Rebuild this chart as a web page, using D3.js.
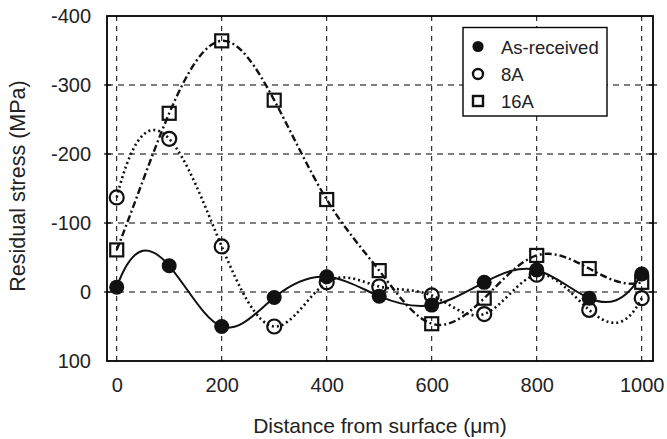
<!DOCTYPE html>
<html><head><meta charset="utf-8">
<script src="https://cdn.jsdelivr.net/npm/d3@7"></script>
<style>body{margin:0;background:#fff}svg{display:block}text{font-family:"Liberation Sans",Arial,sans-serif;fill:#222}</style>
</head><body><svg id="c" width="667" height="439"></svg>
<script>
const distances = [0,100,200,300,400,500,600,700,800,900,1000];
const asReceived = [-7,-38,50,8,-22,6,19,-14,-32,9,-26];
const a8 = [-137,-222,-66,50,-14,-8,5,32,-25,26,9];
const a16 = [-61,-259,-364,-278,-134,-31,46,9,-53,-34,-14];
const xTicks = [0,200,400,600,800,1000];
const yTicks = [-400,-300,-200,-100,0,100];
const seriesNames = ["As-received","8A","16A"];

// not-a-knot cubic spline curve for d3.line
function NotAKnot(context){this._context=context;}
NotAKnot.prototype = {
  areaStart(){this._line=0;}, areaEnd(){this._line=NaN;},
  lineStart(){this._x=[];this._y=[];},
  point(x,y){this._x.push(+x);this._y.push(+y);},
  lineEnd(){
    const X=this._x,Y=this._y,n=X.length,c=this._context;
    if(!n) return;
    c.moveTo(X[0],Y[0]);
    if(n<4){for(let i=1;i<n;i++)c.lineTo(X[i],Y[i]);return;}
    const h=[];for(let i=0;i<n-1;i++)h.push(X[i+1]-X[i]);
    const A=[],b=[];
    for(let i=0;i<n;i++){A.push(new Array(n).fill(0));b.push(0);}
    A[0][0]=-h[1];A[0][1]=h[0]+h[1];A[0][2]=-h[0];
    for(let i=1;i<n-1;i++){
      A[i][i-1]=h[i-1];A[i][i]=2*(h[i-1]+h[i]);A[i][i+1]=h[i];
      b[i]=6*((Y[i+1]-Y[i])/h[i]-(Y[i]-Y[i-1])/h[i-1]);
    }
    A[n-1][n-3]=-h[n-2];A[n-1][n-2]=h[n-3]+h[n-2];A[n-1][n-1]=-h[n-3];
    // gaussian elimination
    for(let k=0;k<n;k++){
      let p=k;for(let r=k+1;r<n;r++)if(Math.abs(A[r][k])>Math.abs(A[p][k]))p=r;
      [A[k],A[p]]=[A[p],A[k]];[b[k],b[p]]=[b[p],b[k]];
      for(let r=k+1;r<n;r++){const f=A[r][k]/A[k][k];if(!f)continue;
        for(let j=k;j<n;j++)A[r][j]-=f*A[k][j];b[r]-=f*b[k];}
    }
    const M=new Array(n).fill(0);
    for(let k=n-1;k>=0;k--){let s=b[k];for(let j=k+1;j<n;j++)s-=A[k][j]*M[j];M[k]=s/A[k][k];}
    for(let i=0;i<n-1;i++){
      const hh=h[i],d=(Y[i+1]-Y[i])/hh;
      const s0=d-hh*(2*M[i]+M[i+1])/6, s1=d+hh*(M[i]+2*M[i+1])/6;
      c.bezierCurveTo(X[i]+hh/3,Y[i]+s0*hh/3,X[i+1]-hh/3,Y[i+1]-s1*hh/3,X[i+1],Y[i+1]);
    }
  }
};
const curveNotAKnot = ctx => new NotAKnot(ctx);

const svg = d3.select("#c");
const L=107,R=653,T=16,B=361;
const x = d3.scaleLinear().domain([-18.5,1021.5]).range([L,R]);
const y = d3.scaleLinear().domain([-400,100]).range([T,B]);

// grid
const g = svg.append("g");
g.selectAll(".vg").data(xTicks).enter().append("line")
  .attr("x1",d=>x(d)).attr("x2",d=>x(d)).attr("y1",T).attr("y2",B)
  .attr("stroke","#000").attr("stroke-width",1).attr("stroke-dasharray","5,5");
g.selectAll(".hg").data(yTicks.slice(1,-1)).enter().append("line")
  .attr("y1",d=>y(d)).attr("y2",d=>y(d)).attr("x1",L).attr("x2",R)
  .attr("stroke","#000").attr("stroke-width",1).attr("stroke-dasharray","6,5");

// axes
const fmt = d => String(d);
const yAxis = d3.axisLeft(y).tickValues(yTicks).tickFormat(fmt).tickSize(0).tickPadding(16);
const xAxis = d3.axisBottom(x).tickValues(xTicks).tickFormat(fmt).tickSize(0).tickPadding(17);
const ya = svg.append("g").attr("transform",`translate(${L},0)`).call(yAxis);
const xa = svg.append("g").attr("transform",`translate(0,${B})`).call(xAxis);
[ya,xa].forEach(a=>{a.attr("font-size",null).attr("font-family",null);a.select(".domain").remove();
  a.selectAll("text").style("font-size","20px").style("fill","#222");});
// small ticks on frame
svg.selectAll(".rt").data(yTicks.slice(1,-1)).enter().append("line")
  .attr("x1",R-4).attr("x2",R+4).attr("y1",d=>y(d)).attr("y2",d=>y(d)).attr("stroke","#000").attr("stroke-width",1.2);
svg.selectAll(".lt").data(yTicks.slice(1,-1)).enter().append("line")
  .attr("x1",L-3).attr("x2",L+4).attr("y1",d=>y(d)).attr("y2",d=>y(d)).attr("stroke","#000").attr("stroke-width",1.2);

// frame
svg.append("rect").attr("x",L).attr("y",T).attr("width",R-L).attr("height",B-T)
  .attr("fill","none").attr("stroke","#000").attr("stroke-width",1.8);

// lines
const line = d3.line().x(d=>x(d[0])).y(d=>y(d[1])).curve(curveNotAKnot);
const series = [
  {vals:asReceived, dash:null, w:2},
  {vals:a8, dash:"2,3", w:2.6},
  {vals:a16, dash:"7,3,2,3", w:2.4}
];
series.forEach(s=>{
  svg.append("path").datum(distances.map((d,i)=>[d,s.vals[i]]))
    .attr("d",line).attr("fill","none").attr("stroke","#111")
    .attr("stroke-width",s.w).attr("stroke-dasharray",s.dash);
});

// markers
svg.selectAll(".m16").data(distances).enter().append("rect")
  .attr("x",(d)=>x(d)-6.5).attr("y",(d,i)=>y(a16[i])-6.5).attr("width",13).attr("height",13)
  .attr("fill","none").attr("stroke","#111").attr("stroke-width",2.2);
svg.selectAll(".m8").data(distances).enter().append("circle")
  .attr("cx",d=>x(d)).attr("cy",(d,i)=>y(a8[i])).attr("r",7)
  .attr("fill","none").attr("stroke","#111").attr("stroke-width",2.2);
svg.selectAll(".m0").data(distances).enter().append("circle")
  .attr("cx",d=>x(d)).attr("cy",(d,i)=>y(asReceived[i])).attr("r",7.5)
  .attr("fill","#111");

// legend
const lg = svg.append("g");
lg.append("rect").attr("x",463).attr("y",27.5).attr("width",144).attr("height",88.5)
  .attr("fill","#fff").attr("stroke","#000").attr("stroke-width",1.4);
const ly=[46.5,74,101];
lg.append("circle").attr("cx",478).attr("cy",ly[0]).attr("r",5.6).attr("fill","#111");
lg.append("circle").attr("cx",478).attr("cy",ly[1]).attr("r",5).attr("fill","none").attr("stroke","#111").attr("stroke-width",2.4);
lg.append("rect").attr("x",473).attr("y",ly[2]-5).attr("width",10).attr("height",10).attr("fill","none").attr("stroke","#111").attr("stroke-width",2.4);
lg.selectAll("text").data(seriesNames).enter().append("text")
  .attr("x",501).attr("y",(d,i)=>ly[i]+7).style("font-size","18.5px").text(d=>d);

// axis titles
svg.append("text").attr("x",380).attr("y",433).attr("text-anchor","middle").style("font-size","21px")
  .text("Distance from surface (μm)");
svg.append("text").attr("transform","translate(25,186) rotate(-90)").attr("text-anchor","middle").style("font-size","21.5px")
  .text("Residual stress (MPa)");
</script></body></html>
